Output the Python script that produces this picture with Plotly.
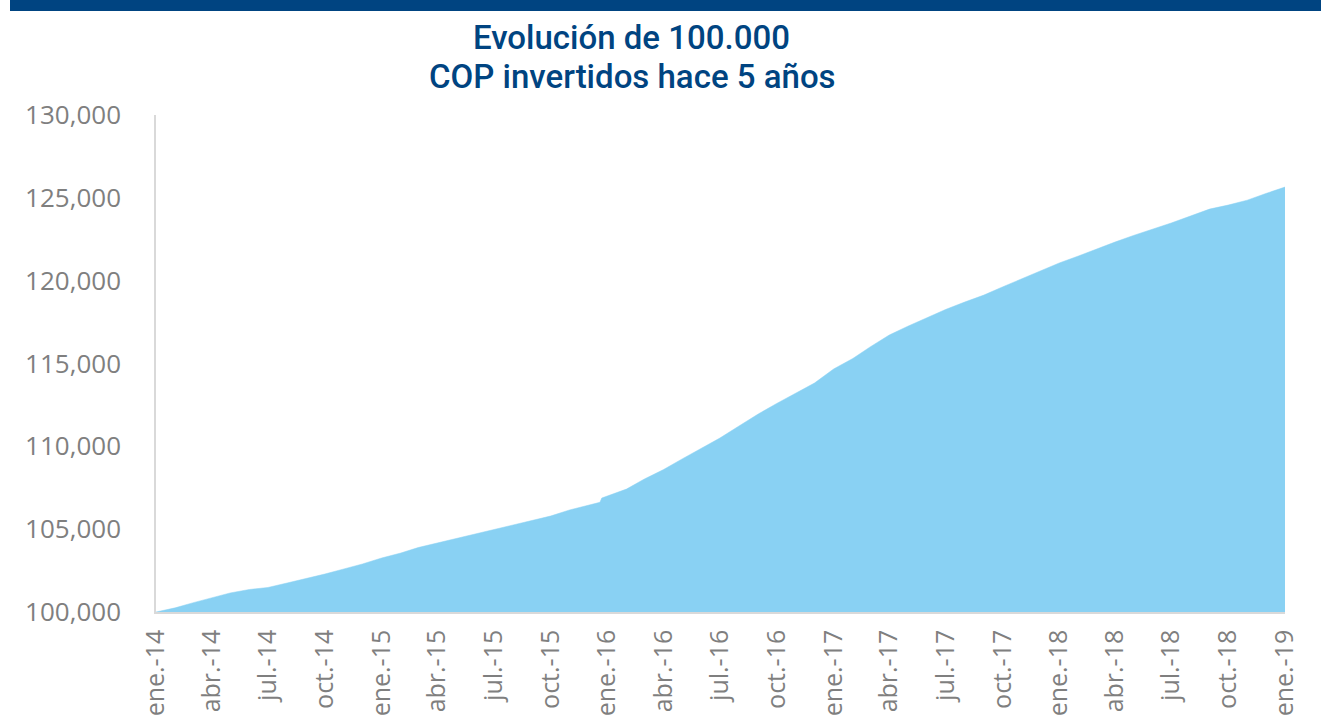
import pandas as pd
import plotly.graph_objects as go

# Monthly values (first day of each month), Jan-2014 .. Jan-2019
values = [
    100000, 100250, 100550, 100850, 101150, 101360, 101480, 101750, 102020, 102290,
    102600, 102900, 103260, 103560, 103890, 104160, 104440, 104680, 104950, 105250,
    105520, 105790, 106160, 106460, 107000, 107420, 108030, 108600, 109240, 109900,
    110500, 111230, 111950, 112590, 113220, 113820, 114670, 115300, 116000, 116720,
    117250, 117750, 118260, 118710, 119130, 119620, 120100, 120580, 121070, 121490,
    121910, 122330, 122730, 123090, 123480, 123900, 124320, 124560, 124860, 125260,
    125650,
]
dates = list(pd.date_range("2014-01-01", periods=len(values), freq="MS"))

# small step visible at the end of December 2015
step_dates = ["2015-12-20", "2015-12-23"]
step_values = [106620, 106880]

series = sorted(zip(dates + [pd.Timestamp(d) for d in step_dates], values + step_values))
x_all = [d for d, _ in series]
y_all = [v for _, v in series]

tick_dates = list(pd.date_range("2014-01-01", "2019-01-01", freq="3MS"))
tick_labels = [
    "ene.-14", "abr.-14", "jul.-14", "oct.-14",
    "ene.-15", "abr.-15", "jul.-15", "oct.-15",
    "ene.-16", "abr.-16", "jul.-16", "oct.-16",
    "ene.-17", "abr.-17", "jul.-17", "oct.-17",
    "ene.-18", "abr.-18", "jul.-18", "oct.-18",
    "ene.-19",
]
y_ticks = [100000, 105000, 110000, 115000, 120000, 125000, 130000]
y_tick_labels = ["100,000", "105,000", "110,000", "115,000", "120,000", "125,000", "130,000"]

title_lines = ["Evolución de 100.000", "COP invertidos hace 5 años"]

L, R, T, B = 156, 36, 115, 113
PW, PH = 1321 - L - R, 725 - T - B

fig = go.Figure()
fig.add_trace(go.Scatter(
    x=x_all, y=y_all, mode="lines", fill="tozeroy",
    line=dict(color="#89D1F3", width=0.5), fillcolor="#89D1F3",
    hoverinfo="skip", showlegend=False,
))

title_font = dict(family="Roboto", size=33, color="#004481", weight=500)
annotations = [
    dict(text=title_lines[0], xref="paper", yref="paper",
         x=(631 - L) / PW, y=1 + (T - 38) / PH, xanchor="center", yanchor="middle",
         showarrow=False, font=title_font),
    dict(text=title_lines[1], xref="paper", yref="paper",
         x=(632 - L) / PW, y=1 + (T - 76) / PH, xanchor="center", yanchor="middle",
         showarrow=False, font=title_font),
]

fig.update_layout(
    width=1321, height=725,
    margin=dict(l=L, r=R, t=T, b=B),
    paper_bgcolor="white", plot_bgcolor="white",
    annotations=annotations,
    shapes=[dict(type="rect", xref="paper", yref="paper",
                 x0=(10 - L) / PW, x1=1.05, y0=1 + (T - 11) / PH, y1=1 + (T + 5) / PH,
                 fillcolor="#004481", line=dict(width=0), layer="above")],
    xaxis=dict(
        type="date", range=["2014-01-01", "2019-01-01"], automargin=False,
        tickmode="array", tickvals=tick_dates, ticktext=tick_labels,
        tickangle=-90, showgrid=False, zeroline=False,
        showline=True, linecolor="#D9D9D9", linewidth=1.5,
        ticks="", tickfont=dict(family="Open Sans", size=25, color="#7F7F7F"),
        ticklabelstandoff=6,
    ),
    yaxis=dict(
        range=[100000, 130000], automargin=False,
        tickmode="array", tickvals=y_ticks, ticktext=y_tick_labels,
        showgrid=False, zeroline=False,
        showline=True, linecolor="#D9D9D9", linewidth=1.5,
        ticks="", tickfont=dict(family="Open Sans", size=26, color="#7F7F7F"),
        ticklabelstandoff=28,
    ),
)

fig.write_html(
    "out.html",
    config={"displayModeBar": False},
    post_script="document.body.style.margin='0';document.body.style.overflow='hidden';",
)
